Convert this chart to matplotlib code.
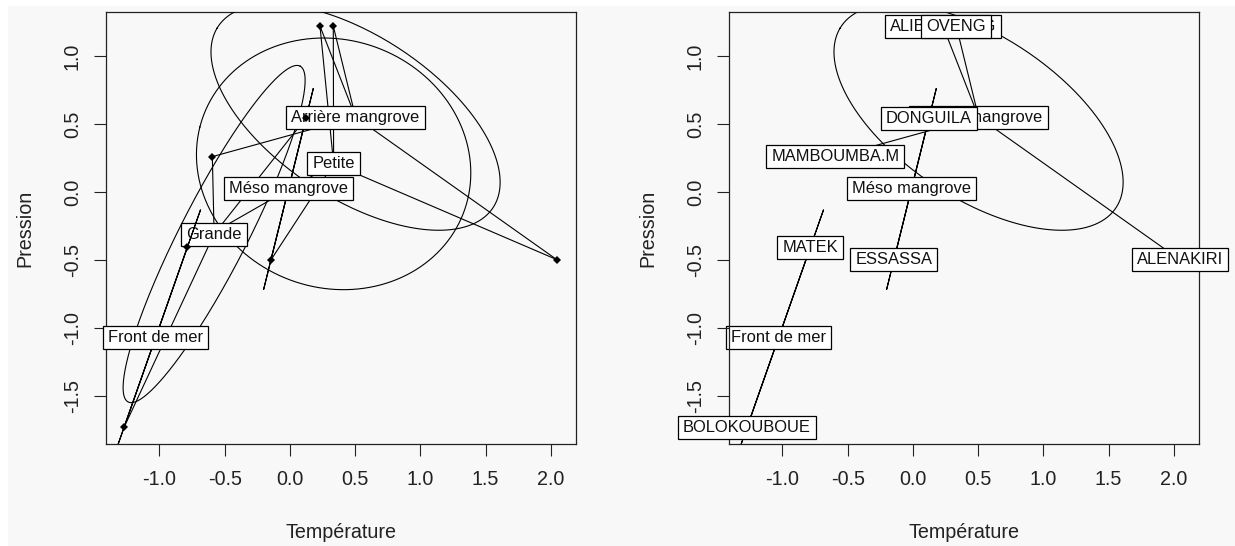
import numpy as np
import matplotlib
matplotlib.use("Agg")
import matplotlib.pyplot as plt
from matplotlib.patches import Rectangle

# ---------------- data ----------------
stations = ["ALENAKIRI", "ALIBANDENG", "BOLOKOUBOUE", "DONGUILA",
            "ESSASSA", "MAMBOUMBA.M", "MATEK", "OVENG"]
temperature = [2.044, 0.230, -1.272, 0.123, -0.146, -0.595, -0.787, 0.332]
pression = [-0.497, 1.220, -1.732, 0.544, -0.500, 0.260, -0.408, 1.220]
zone = ["Arrière mangrove", "Arrière mangrove", "Front de mer", "Méso mangrove",
        "Méso mangrove", "Arrière mangrove", "Front de mer", "Arrière mangrove"]
taille = ["Petite", "Petite", "Grande", "Grande",
          "Petite", "Grande", "Petite", "Petite"]
xticks = [-1.0, -0.5, 0.0, 0.5, 1.0, 1.5, 2.0]
yticks = [-1.5, -1.0, -0.5, 0.0, 0.5, 1.0]
xlabel = "Température"
ylabel = "Pression"

plt.rcParams['font.family'] = ['Liberation Sans', 'DejaVu Sans']

W, H = 1235, 546
fig = plt.figure(figsize=(W / 100, H / 100), dpi=100, facecolor='#f8f8f8')
# white strips of the screenshot border
fig.patches.append(Rectangle((0, 1 - 6 / H), 1, 6 / H, transform=fig.transFigure,
                             facecolor='white', edgecolor='none', zorder=-10))
fig.patches.append(Rectangle((0, 0), 8 / W, 1, transform=fig.transFigure,
                             facecolor='white', edgecolor='none', zorder=-10))

ax_top, ax_bot = 11.7, 444.2
ax_w = 469.7
lefts = [106.0, 729.0]
axes = []
for L in lefts:
    ax = fig.add_axes([L / W, (H - ax_bot) / H, ax_w / W, (ax_bot - ax_top) / H])
    ax.set_facecolor('#f8f8f8')
    ax.set_xlim(-1.41, 2.19)
    ax.set_ylim(-1.855, 1.326)
    ax.set_xticks(xticks)
    ax.set_yticks(yticks)
    ax.set_xticklabels([f"{v:.1f}" for v in xticks])
    ax.set_yticklabels([f"{v:.1f}" for v in yticks], rotation=90, va='center')
    ax.tick_params(axis='both', direction='out', length=8.3, width=0.8,
                   labelsize=14.2, color='#222222', labelcolor='#222222')
    ax.tick_params(axis='x', pad=10.0)
    ax.tick_params(axis='y', pad=9.0)
    for s in ax.spines.values():
        s.set_linewidth(0.9)
        s.set_color('#222222')
    cx = (L + ax_w / 2) / W
    fig.text(cx, (H - 532) / H, xlabel, ha='center', va='center',
             fontsize=14.2, color='#222222')
    fig.text((L - 81) / W, 1 - (ax_top + ax_bot) / 2 / H, ylabel, ha='center',
             va='center', rotation=90, fontsize=14.2, color='#222222')
    axes.append(ax)

x = np.array(temperature)
y = np.array(pression)

pending_labels = []  # (ax, text_obj, x, y, zorder)


def add_label(ax, xx, yy, txt, z, fs=11.9):
    t = ax.text(xx, yy, txt, ha='center', va='center', fontsize=fs,
                color='#111111', zorder=z + 0.05, clip_on=False)
    pending_labels.append((ax, t, xx, yy, z))


def draw_class(ax, fac, z):
    levels = sorted(set(fac))
    centers = []
    for lev in levels:
        idx = [i for i, f in enumerate(fac) if f == lev]
        xs, ys = x[idx], y[idx]
        mx, my = xs.mean(), ys.mean()
        centers.append((lev, mx, my))
        for xi, yi in zip(xs, ys):
            ax.plot([mx, xi], [my, yi], color='black', lw=0.8, zorder=z)
    for lev in levels:
        idx = [i for i, f in enumerate(fac) if f == lev]
        xs, ys = x[idx], y[idx]
        mx, my = xs.mean(), ys.mean()
        cov = np.cov(xs, ys)
        vals, vecs = np.linalg.eigh(cov)
        vals = np.clip(vals, 0, None)
        t = np.linspace(0, 2 * np.pi, 300)
        a, b = np.sqrt(vals[1]), np.sqrt(vals[0])
        ex = mx + a * np.cos(t) * vecs[0, 1] + b * np.sin(t) * vecs[0, 0]
        ey = my + a * np.cos(t) * vecs[1, 1] + b * np.sin(t) * vecs[1, 0]
        ax.plot(ex, ey, color='black', lw=0.8, zorder=z)
    zz = z + 0.2
    for lev, mx, my in centers:
        add_label(ax, mx, my, lev, zz)
        zz += 0.1


# left panel: size classes, then zone classes, then points
axL, axR = axes
draw_class(axL, taille, 1)
draw_class(axL, zone, 3)
axL.plot(x, y, linestyle='none', marker='D', ms=4.2, color='black',
         markeredgewidth=0, zorder=8, clip_on=False)

# right panel: zone classes, then station labels
draw_class(axR, zone, 1)
zz = 4
for name, xi, yi in zip(stations, x, y):
    add_label(axR, xi, yi, name, zz)
    zz += 0.1

# boxes behind labels
fig.canvas.draw()
renderer = fig.canvas.get_renderer()
pad_px = 5.0
box_h = 23.0
for ax, t, xx, yy, z in pending_labels:
    bb = t.get_window_extent(renderer)
    cxp, cyp = ax.transData.transform((xx, yy))
    wpx = bb.width + 2 * pad_px
    p0 = ax.transData.inverted().transform((cxp - wpx / 2, cyp - box_h / 2))
    p1 = ax.transData.inverted().transform((cxp + wpx / 2, cyp + box_h / 2))
    ax.add_patch(Rectangle((p0[0], p0[1]), p1[0] - p0[0], p1[1] - p0[1],
                           facecolor='white', edgecolor='black', lw=0.9,
                           zorder=z, clip_on=False))

fig.savefig("out.png", dpi=100, facecolor=fig.get_facecolor())
